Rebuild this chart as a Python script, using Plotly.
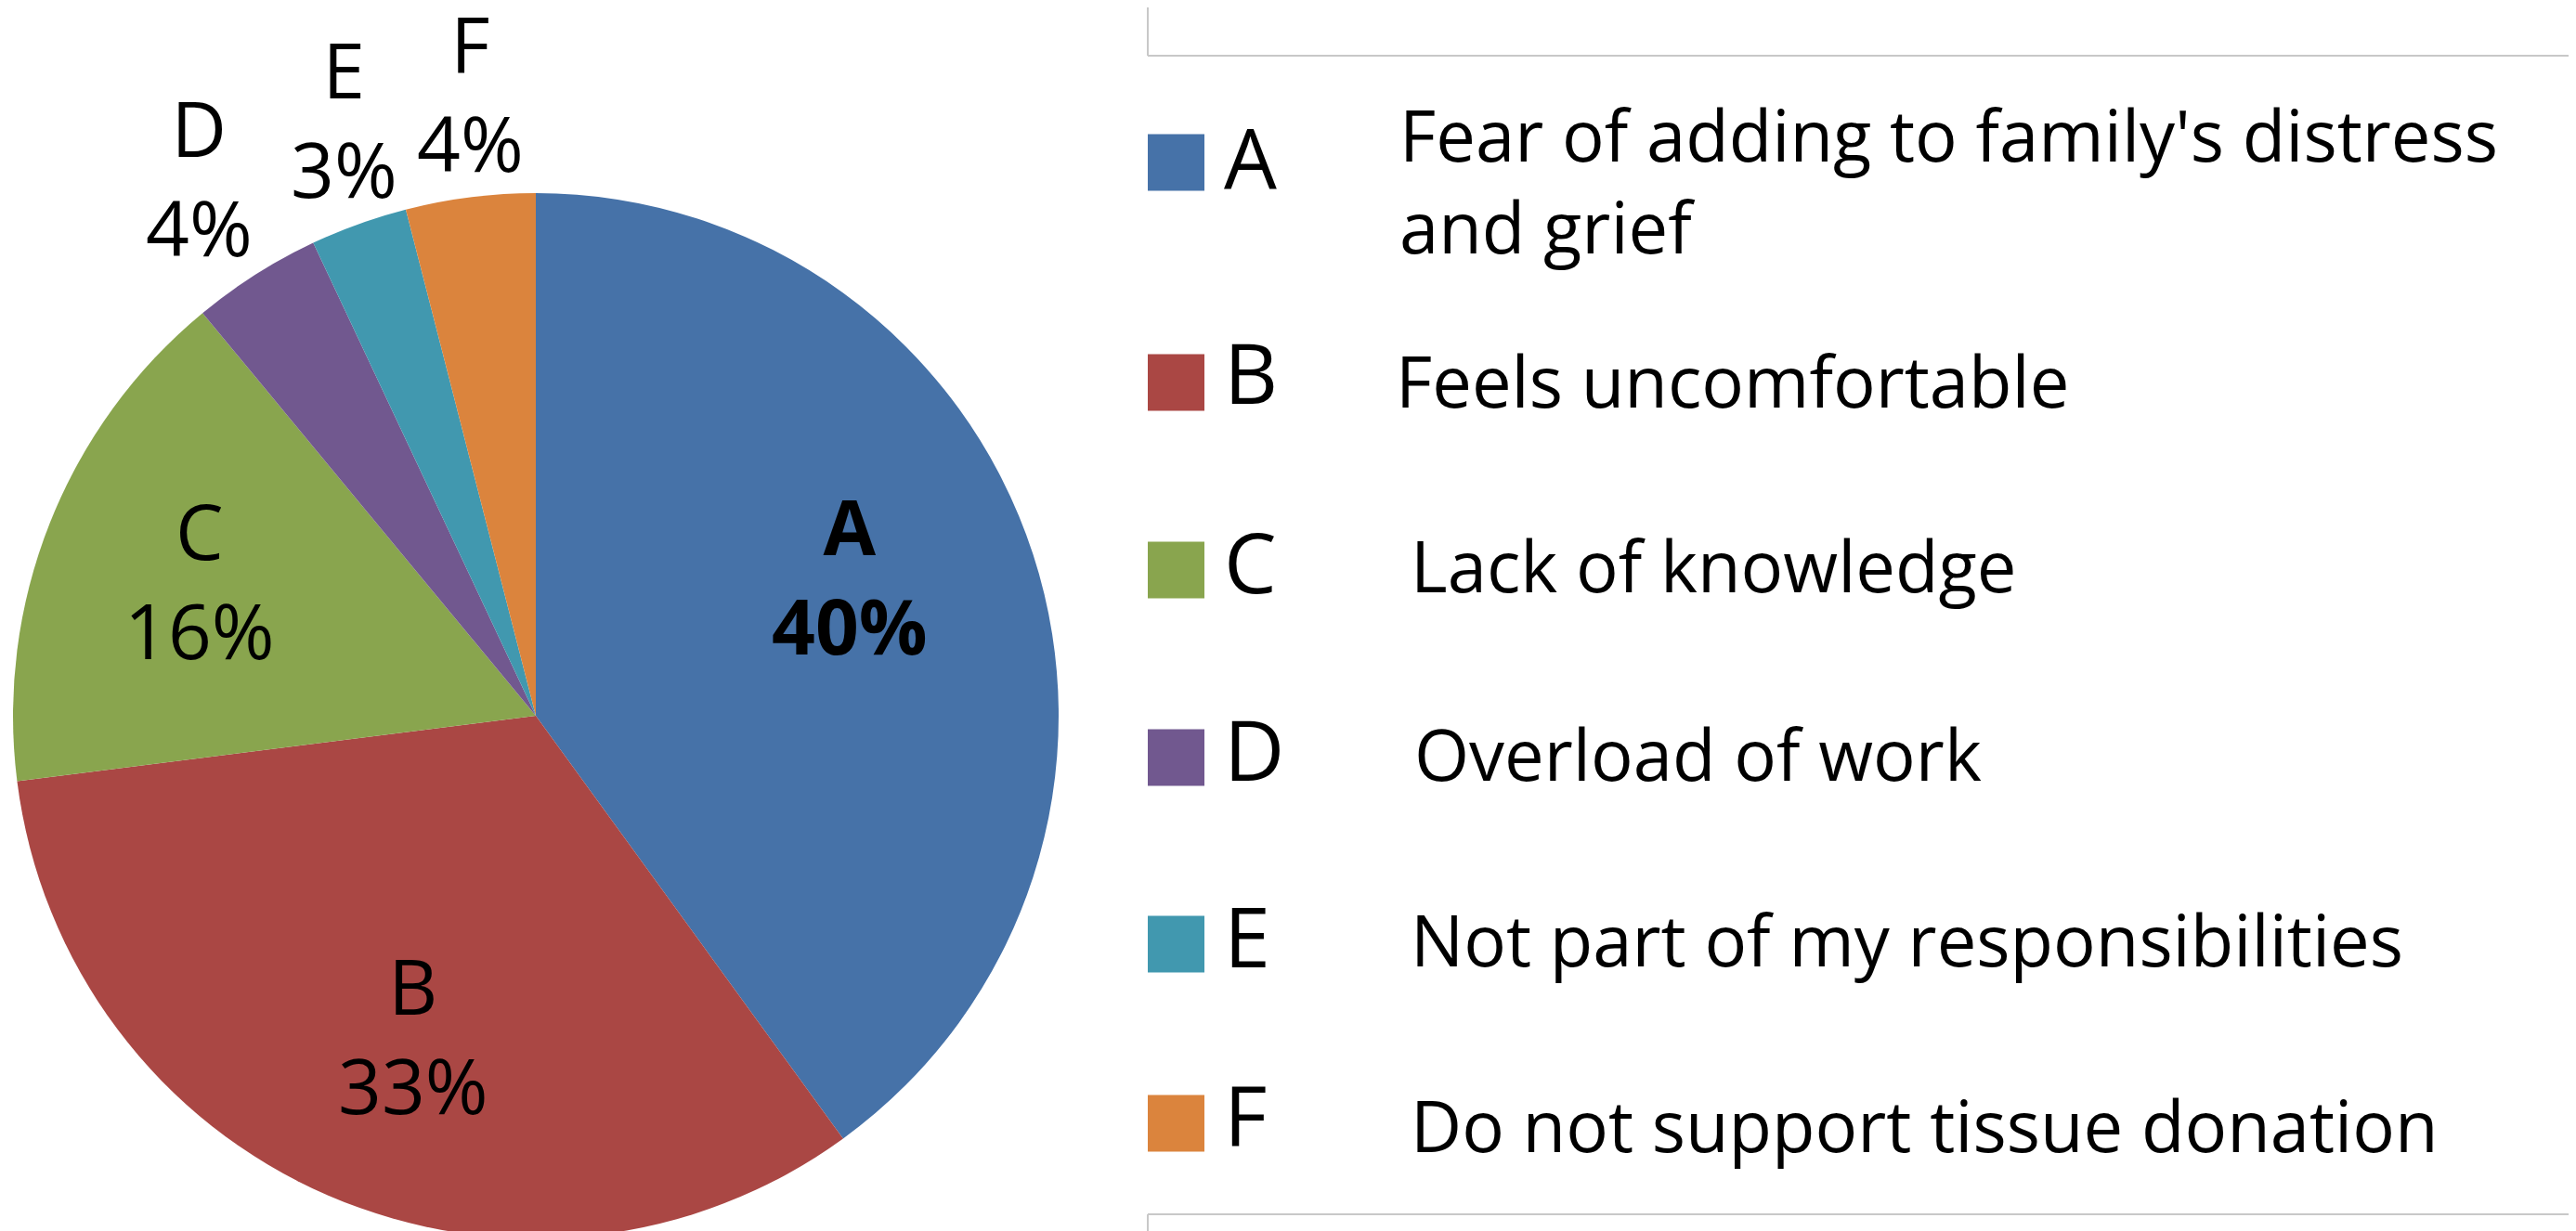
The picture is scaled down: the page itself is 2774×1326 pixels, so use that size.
import math
import plotly.graph_objects as go

W, H = 2774, 1326

labels = ["A", "B", "C", "D", "E", "F"]
values = [40, 33, 16, 4, 3, 4]
descriptions = [
    "Fear of adding to family's distress<br>and grief",
    "Feels uncomfortable",
    "Lack of knowledge",
    "Overload of work",
    "Not part of my responsibilities",
    "Do not support tissue donation",
]
colors = ["#4672A8", "#AA4744", "#89A54E", "#71588F", "#4198AF", "#DB843D"]

FONT = "Open Sans"

def fx(x):
    return x / W

def fy(y):
    return 1 - y / H

# pie geometry (pixels)
cx, cy, r = 569, 763, 563

fig = go.Figure(go.Pie(
    labels=labels,
    values=values,
    sort=False,
    direction="clockwise",
    rotation=0,
    marker=dict(colors=colors, line=dict(width=0)),
    textinfo="none",
    automargin=False,
    showlegend=False,
    domain=dict(x=[fx(cx - r), fx(cx + r)], y=[fy(cy + r), fy(cy - r)]),
    hoverinfo="label+percent",
))

annotations = []

# data labels placed along each slice's mid-angle
label_radius = [0.658, 0.654, 0.694, 1.215, 1.20, 1.20]
label_shift_deg = [-6.1, -2.4, 0.5, 0.4, 2.0, 1.2]
label_bold = [True, False, False, False, False, False]
total = sum(values)
cum = 0
for i, v in enumerate(values):
    mid = (cum + v / 2) / total * 360 + label_shift_deg[i]
    cum += v
    th = math.radians(mid)
    x = cx + label_radius[i] * r * math.sin(th)
    y = cy - label_radius[i] * r * math.cos(th)
    pct = f"{round(v / total * 100)}%"
    txt = f"{labels[i]}<br>{pct}"
    if label_bold[i]:
        txt = f"<b>{txt}</b>"
    annotations.append(dict(xref="paper", yref="paper", x=fx(x), y=fy(y),
                            text=txt, showarrow=False, xanchor="center",
                            yanchor="middle", align="center",
                            font=dict(family=FONT, size=82, color="black")))

# legend frame lines
line_color = "#C8C8C8"
frame = [
    (1228, 0, 1228, 52),
    (1228, 52, 2762, 52),
    (2762, 52, 2762, 1300),
    (1228, 1300, 2762, 1300),
    (1228, 1300, 1228, 1326),
]
shapes = []
for x0, y0, x1, y1 in frame:
    shapes.append(dict(type="line", xref="paper", yref="paper",
                       x0=fx(x0), y0=fy(y0), x1=fx(x1), y1=fy(y1),
                       line=dict(color=line_color, width=2)))

# legend entries
square_cy = [167, 404, 606, 808, 1009, 1202]
letter_cy = [160, 392, 596, 798, 999, 1192]
desc_cy = [186, 401, 601, 803, 1003, 1203]
desc_x = [1497, 1493, 1509, 1513, 1509, 1509]
for i, lab in enumerate(labels):
    s = 61
    shapes.append(dict(type="rect", xref="paper", yref="paper",
                       x0=fx(1228), x1=fx(1228 + s),
                       y0=fy(square_cy[i] + s / 2), y1=fy(square_cy[i] - s / 2),
                       fillcolor=colors[i], line=dict(width=0)))
    annotations.append(dict(xref="paper", yref="paper", x=fx(1308), y=fy(letter_cy[i]),
                            text=lab, showarrow=False, xanchor="left", yanchor="middle",
                            font=dict(family=FONT, size=90, color="black")))
    annotations.append(dict(xref="paper", yref="paper", x=fx(desc_x[i]), y=fy(desc_cy[i]),
                            text=descriptions[i], showarrow=False, xanchor="left",
                            yanchor="middle", align="left",
                            font=dict(family=FONT, size=76, color="black")))

fig.update_layout(
    width=W, height=H,
    margin=dict(l=0, r=0, t=0, b=0, autoexpand=False),
    paper_bgcolor="white",
    plot_bgcolor="white",
    shapes=shapes,
    annotations=annotations,
    font=dict(family=FONT),
)

fig.write_html("out.html")
